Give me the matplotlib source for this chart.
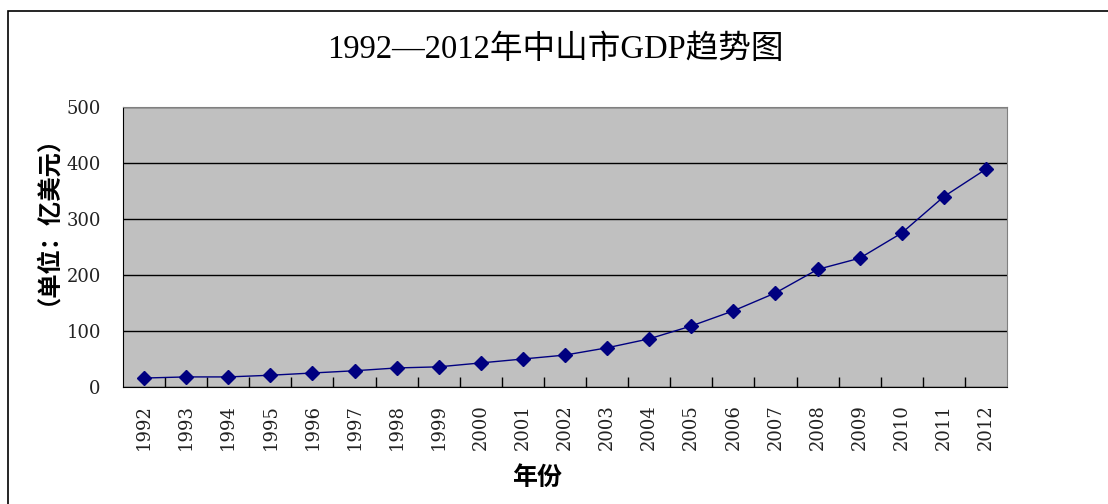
import matplotlib
matplotlib.use("Agg")
import matplotlib.pyplot as plt
from matplotlib.patches import Rectangle

# 中山市 GDP (亿美元)
years = ['1992', '1993', '1994', '1995', '1996', '1997', '1998', '1999', '2000', '2001',
         '2002', '2003', '2004', '2005', '2006', '2007', '2008', '2009', '2010', '2011', '2012']
gdp = [16, 18, 18, 21, 25, 29, 34, 36, 43, 50, 57, 70, 86, 109, 136, 168, 210, 230, 275, 340, 389]
yticks = [0, 100, 200, 300, 400, 500]

num_font = 'DejaVu Serif'
cjk_font = ['Liberation Serif', 'Noto Sans CJK SC']

fig = plt.figure(figsize=(11.08, 5.04), dpi=100)
ax = fig.add_axes([123 / 1108, 1 - 387 / 504, 884 / 1108, 280 / 504])

# chart area border
fig.patches.append(Rectangle((8 / 1108, -0.05), 1.1, 1 - 11 / 504 + 0.05,
                             transform=fig.transFigure, fill=False,
                             edgecolor='black', linewidth=1.2))

ax.set_facecolor('#c0c0c0')
x = list(range(len(years)))
ax.plot(x, gdp, color='#000080', linewidth=1, marker='D', markersize=7,
        markerfacecolor='#000080', markeredgecolor='#000080', zorder=3)

ax.set_xlim(-0.5, len(years) - 0.5)
ax.set_ylim(0, 500)
ax.set_yticks(yticks)
ax.set_yticklabels([str(v) for v in yticks], family=num_font, fontsize=13, color='#222222')
ax.tick_params(axis='y', length=0, pad=16)
ax.yaxis.grid(True, color='black', linewidth=1)
ax.set_axisbelow(True)

ax.set_xticks([i + 0.5 for i in x[:-1]])
ax.set_xticklabels([])
ax.tick_params(axis='x', direction='in', length=7, width=1, color='black')
for i, yr in enumerate(years):
    ax.text(i, -0.06, yr, transform=ax.get_xaxis_transform(), rotation=90,
            ha='center', va='top', family=num_font, fontsize=13, color='#222222')

for s in ['top', 'right']:
    ax.spines[s].set_color('#808080')
for s in ['left', 'bottom']:
    ax.spines[s].set_color('black')

fig.text(555 / 1108, 1 - 50 / 504, '1992—2012年中山市GDP趋势图', ha='center', va='center',
         family=cjk_font, fontsize=23.5)
fig.text(35 / 1108, 1 - 208 / 504, '（单位：亿美元）', rotation=90, ha='center', va='center',
         family=['Noto Sans CJK SC', 'DejaVu Sans'], fontsize=17.5, fontweight='bold')
fig.text(537 / 1108, 1 - 478 / 504, '年份', ha='center', va='center',
         family=['Noto Sans CJK SC', 'DejaVu Sans'], fontsize=18, fontweight='bold')

fig.savefig('out.png', dpi=100, facecolor='white')
